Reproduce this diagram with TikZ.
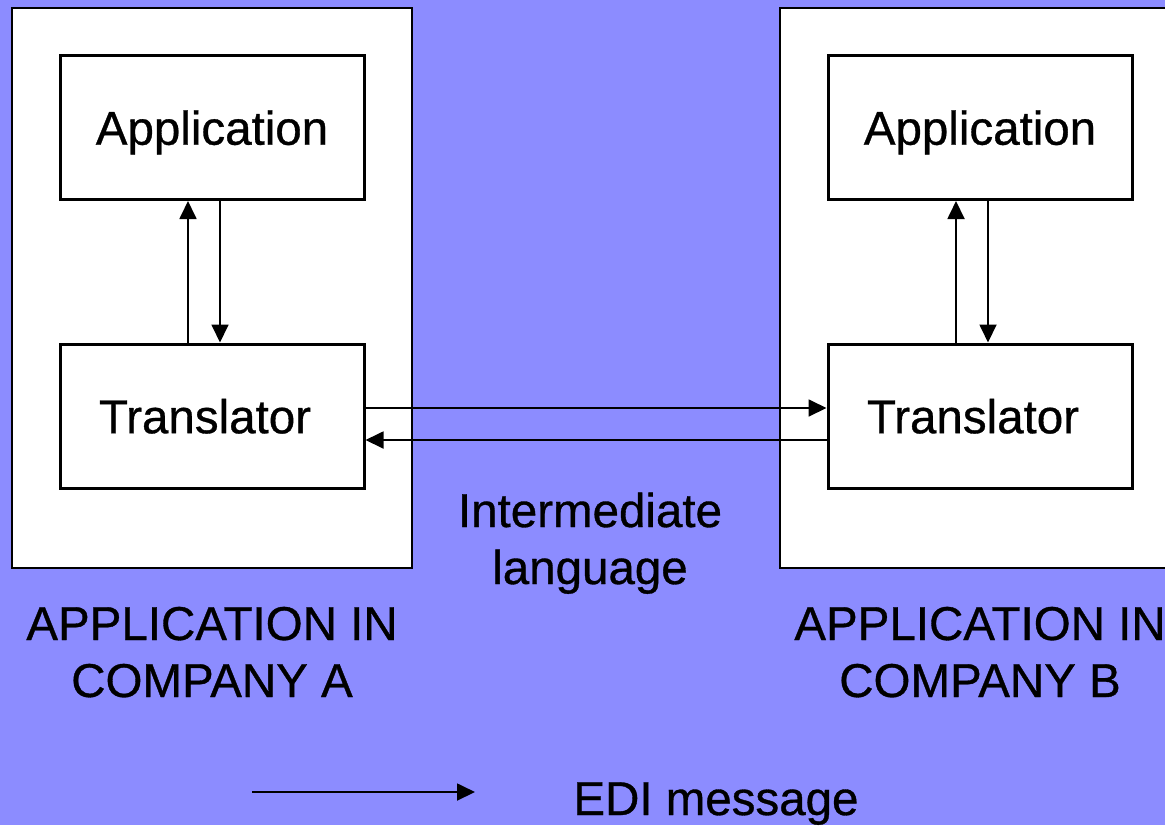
\documentclass[tikz,border=0pt]{standalone}
\usepackage{fontspec}
\setmainfont[FakeBold=0.7]{Liberation Sans}
\usepackage{tikz}
\usetikzlibrary{positioning,calc,arrows.meta}

\definecolor{nen}{RGB}{140,140,255}
\tikzset{
	khung/.style={draw,fill=white,line width=0.6pt,minimum width=200pt,minimum height=280pt,inner sep=0pt},
	hop/.style={draw,fill=white,line width=1.5pt,minimum width=152pt,minimum height=72pt,inner sep=0pt,text depth=0pt},
	mui/.style={-{Triangle[length=9pt,width=8.5pt]},line width=0.9pt}
}

\begin{document}
\begin{tikzpicture}[x=0.5pt,y=-0.5pt,font=\fontsize{23.75}{28.5}\selectfont]
			% Nền
			\fill[nen] (0,0) rectangle (1165,825);
			\useasboundingbox (0,0) rectangle (1165,825);
			
			% Hai công ty
			\foreach \c/\x in {A/212,B/980} {
				\node[khung] (ct\c) at (\x,288) {};
				\node[hop] (app\c) at (\x,127.5) {Application};
				\node[hop] (tran\c) at (\x,416) {Translator\kern7pt};
				\draw[mui] ([xshift=-12pt]tran\c.north) -- ([xshift=-12pt]app\c.south);
				\draw[mui] ([xshift=4pt]app\c.south) -- ([xshift=4pt]tran\c.north);
				\node[align=center,anchor=base] (nhan\c) at (\x,697) {APPLICATION IN\\COMPANY \c};
			}
			
			% Ngôn ngữ trung gian
			\draw[mui] ([yshift=4pt]tranA.east) -- ([yshift=4pt]tranB.west);
			\draw[mui] ([yshift=-12pt]tranB.west) -- ([yshift=-12pt]tranA.east);
			\node[align=center,anchor=base] (trunggian) at (590,584) {Intermediate\\language};
			
			% Chú thích
			\coordinate (edi1) at (252,792);
			\coordinate (edi2) at (475,792);
			\draw[mui] (edi1) -- (edi2);
			\node[anchor=base west,inner sep=0pt] (edi) at (573,815) {EDI message};
		\end{tikzpicture}
\end{document}
